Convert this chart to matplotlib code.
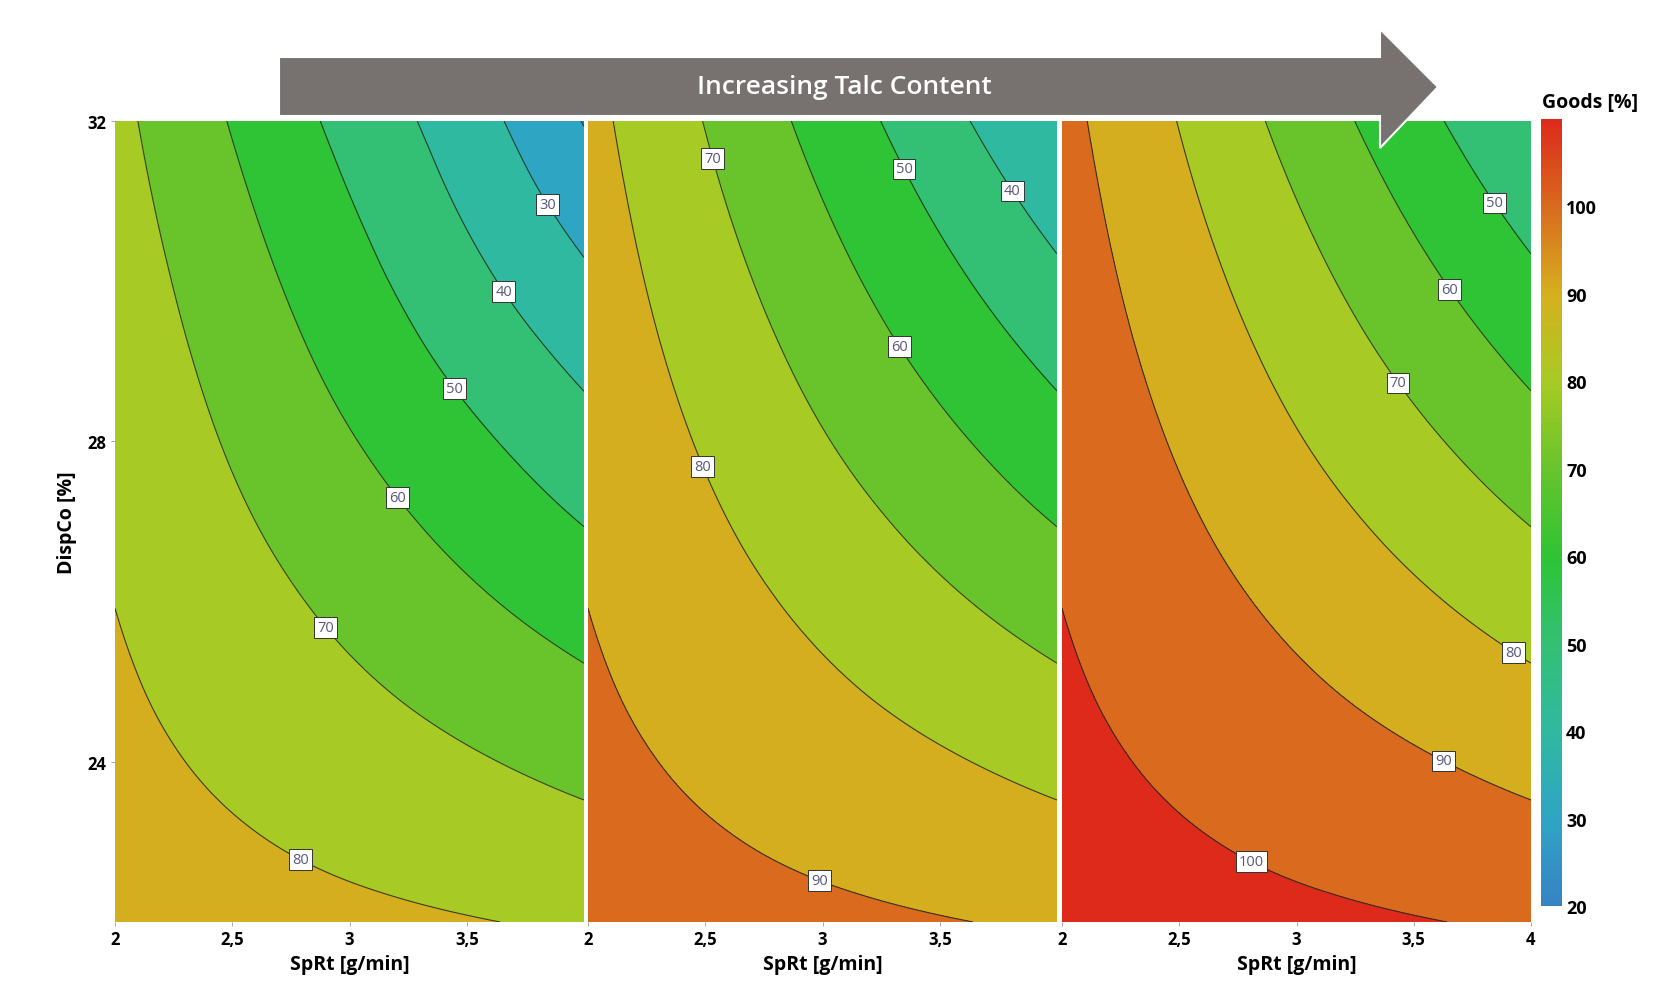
import numpy as np
import matplotlib
matplotlib.use('Agg')
import matplotlib.pyplot as plt
import matplotlib.tri as mtri
from matplotlib.colors import LinearSegmentedColormap, Normalize
from matplotlib.cm import ScalarMappable
from matplotlib.patches import Polygon

plt.rcParams['font.family'] = ['Open Sans', 'DejaVu Sans']

# --- data ---
sprt = [2.0, 2.5, 3.0, 3.5, 4.0]        # SpRt [g/min]
dispco = [22, 24, 26, 28, 30, 32]       # DispCo [%]

# Goods [%], rows = DispCo, columns = SpRt
goods_low = [
    [84.6, 83.2, 81.8, 80.4, 79.0],
    [82.2, 78.5, 74.7, 71.0, 67.2],
    [79.9, 73.8, 67.7, 61.6, 55.5],
    [77.5, 69.1, 60.6, 52.2, 43.7],
    [75.2, 64.4, 53.6, 42.8, 31.8],
    [72.6, 59.4, 47.0, 34.5, 19.6],
]
goods_mid = [
    [94.6, 93.2, 91.8, 90.4, 89.0],
    [92.2, 88.5, 84.7, 81.0, 77.2],
    [89.9, 83.8, 77.7, 71.6, 65.5],
    [87.5, 79.1, 70.6, 62.2, 53.7],
    [85.2, 74.4, 63.6, 52.8, 42.0],
    [82.8, 69.7, 56.5, 43.4, 30.2],
]
goods_high = [
    [104.6, 103.2, 101.8, 100.4, 99.0],
    [102.2, 98.5, 94.7, 91.0, 87.2],
    [99.9, 93.8, 87.7, 81.6, 75.5],
    [97.5, 89.1, 80.6, 72.2, 63.7],
    [95.2, 84.4, 73.6, 62.8, 52.0],
    [92.8, 79.7, 66.5, 53.4, 40.2],
]

fill_levels = [10, 20, 30, 40, 50, 60, 70, 80, 90, 100, 110]
line_levels = [20, 30, 40, 50, 60, 70, 80, 90, 100]
cbar_ticks = [20, 30, 40, 50, 60, 70, 80, 90, 100]
x_ticks = [2, 2.5, 3, 3.5, 4]
x_ticklabels = ['2', '2,5', '3', '3,5', '4']
y_ticks = [24, 28, 32]

# where the contour labels sit (approx, data coords)
label_pos = [
    [(2.79, 22.78), (2.88, 25.63), (3.18, 27.25), (3.42, 28.6), (3.62, 29.8), (3.81, 30.9)],
    [(2.99, 22.53), (2.48, 27.68), (2.51, 31.51), (3.31, 29.15), (3.32, 31.36), (3.78, 31.07)],
    [(2.82, 22.82), (3.62, 23.97), (3.91, 25.3), (3.41, 28.68), (3.63, 29.85), (3.82, 30.93)],
]

# colour scale
anchors = [20, 30, 40, 50, 60, 70, 80, 90, 100, 110]
anchor_cols = ['#3683c4', '#2fa5c4', '#30b9a0', '#33c074', '#2ec434',
               '#68c42c', '#a8ca24', '#d5b01f', '#d96b1e', '#dd2a1a']
norm = Normalize(20, 110)
cmap = LinearSegmentedColormap.from_list(
    'goods', [((a - 20) / 90, c) for a, c in zip(anchors, anchor_cols)])
band_cols = ['#2a6fb0'] + [cmap(norm(l)) for l in fill_levels[2:]]

W, H = 1664, 987
fig = plt.figure(figsize=(W / 100, H / 100), dpi=100)

panel_left = [115, 588, 1062]
panel_w = 469
top, bottom = 122, 923


def tri_grid(xs, ys):
    nx, ny = len(xs), len(ys)
    X, Y = np.meshgrid(xs, ys)
    tris = []
    for j in range(ny - 1):
        for i in range(nx - 1):
            a = j * nx + i
            tris.append([a, a + 1, a + nx + 1])
            tris.append([a, a + nx + 1, a + nx])
    return X.ravel(), Y.ravel(), np.array(tris)


xs, ys, tris = tri_grid(sprt, dispco)
ysc = 4.0  # scale DispCo so the grid cells are roughly square for smoothing

for k, z in enumerate([goods_low, goods_mid, goods_high]):
    ax = fig.add_axes([panel_left[k] / W, 1 - bottom / H, panel_w / W, (bottom - top) / H])
    z = np.asarray(z, dtype=float).ravel()
    tri = mtri.Triangulation(xs, np.asarray(ys) / ysc, tris)
    interp = mtri.CubicTriInterpolator(tri, z, kind='min_E')
    tri_f, z_f = mtri.UniformTriRefiner(tri).refine_field(z, interp, subdiv=5)
    tri_f = mtri.Triangulation(tri_f.x, tri_f.y * ysc, tri_f.triangles)

    ax.tricontourf(tri_f, z_f, levels=fill_levels, colors=band_cols)
    cs = ax.tricontour(tri_f, z_f, levels=line_levels, colors='#1c2a1c',
                       linewidths=0.8, alpha=0.85)
    texts = ax.clabel(cs, manual=label_pos[k], inline=True, inline_spacing=2,
                      fmt='%d', fontsize=10.5, colors='#3a3a66')
    for t in texts:
        t.set_rotation(0)
        t.set_bbox(dict(boxstyle='square,pad=0.2', fc='white', ec='#333333', lw=0.7))

    ax.set_xlim(2, 4)
    ax.set_ylim(22, 32)
    for s in ax.spines.values():
        s.set_visible(False)
    xt = x_ticks if k == 2 else x_ticks[:-1]
    ax.set_xticks(xt)
    ax.set_xticklabels(x_ticklabels[:len(xt)], fontweight='bold', fontsize=12)
    ax.set_xlabel('SpRt [g/min]', fontweight='bold', fontsize=14, labelpad=4)
    if k == 0:
        ax.set_yticks(y_ticks)
        ax.set_yticklabels([str(v) for v in y_ticks], fontweight='bold', fontsize=12)
        ax.set_ylabel('DispCo [%]', fontweight='bold', fontsize=14, labelpad=8)
    else:
        ax.set_yticks([])
    ax.tick_params(length=3, width=0.6, color='#999999', pad=3)

# colour bar
cax = fig.add_axes([1541 / W, 1 - 907 / H, 21 / W, 787 / H])
cb = fig.colorbar(ScalarMappable(norm=norm, cmap=cmap), cax=cax, ticks=cbar_ticks)
cb.outline.set_visible(False)
cb.ax.tick_params(length=0, pad=3)
for t in cb.ax.get_yticklabels():
    t.set_fontweight('bold')
    t.set_fontsize(13)
fig.text(1590 / W, 1 - 103 / H, 'Goods [%]', ha='center', va='center',
         fontweight='bold', fontsize=14)

# arrow across the top
pts = [(279, 58), (1380, 58), (1380, 30), (1438, 88), (1380, 149), (1380, 117), (279, 117)]
arrow = Polygon([(x / W, 1 - y / H) for x, y in pts], closed=True,
                transform=fig.transFigure, fc='#777270', ec='white', lw=1.5, zorder=10)
fig.add_artist(arrow)
fig.text(844 / W, 1 - 88 / H, 'Increasing Talc Content', ha='center', va='center',
         color='white', fontsize=19, fontweight='semibold', zorder=11)

fig.savefig('out.png', dpi=100)
